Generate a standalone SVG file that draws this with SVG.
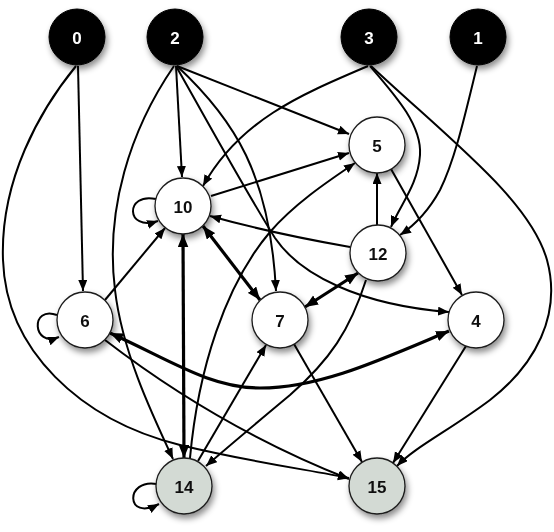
<svg xmlns="http://www.w3.org/2000/svg" width="554" height="532" viewBox="0 0 554 532">
<style>
.e{fill:none;stroke:#000;stroke-width:2;marker-end:url(#a)}
.t{fill:none;stroke:#000;stroke-width:3.2;marker-end:url(#b);marker-start:url(#b)}
.dk circle{fill:#000;stroke:#000;stroke-width:1}
.wt circle{fill:#fff;stroke:#1a1a1a;stroke-width:1.3}
.gr circle{fill:#d3dad4;stroke:#1a1a1a;stroke-width:1.3}
text{font-family:"Liberation Sans",Arial,sans-serif;font-weight:bold;font-size:17px;text-anchor:middle;dominant-baseline:central}
.dk text{fill:#fff}
.wt text,.gr text{fill:#111}
</style>
<defs>
<filter id="sh" x="-40%" y="-40%" width="180%" height="180%">
<feDropShadow dx="2" dy="4" stdDeviation="3" flood-color="#000" flood-opacity="0.45"/>
</filter>
<marker id="a" markerUnits="userSpaceOnUse" markerWidth="12" markerHeight="10" refX="11" refY="4.5" orient="auto-start-reverse"><path d="M0,0 L11,4.5 L0,9 z" fill="#000"/></marker>
<marker id="b" markerUnits="userSpaceOnUse" markerWidth="14" markerHeight="11" refX="13" refY="5.25" orient="auto-start-reverse"><path d="M0,0 L13,5.25 L0,10.5 z" fill="#000"/></marker>
</defs>
<g id="edges">
<path class="e" d="M78,66 L83,291"/>
<path class="e" d="M76,66 C40,110 0,180 3,260 C6,350 80,420 180,445 C250,462 310,470 349,478"/>
<path class="e" d="M176,66 L182,177"/>
<path class="e" d="M177,66 L349,134"/>
<path class="e" d="M177,66 C235,120 270,175 276,291"/>
<path class="e" d="M176,66 C215,135 245,190 275,238 C300,275 360,305 449,312"/>
<path class="e" d="M174,66 C130,130 105,210 115,290 C122,350 150,410 173,459"/>
<path class="e" d="M368,66 C300,95 240,120 203,186"/>
<path class="e" d="M370,66 C395,95 422,125 420,155 C418,185 400,205 391,227"/>
<path class="e" d="M371,66 C450,140 530,200 547,260 C562,315 535,365 490,400 C450,430 415,447 397,466"/>
<path class="e" d="M477,66 C465,115 455,160 440,190 C428,212 415,225 400,235"/>
<path class="e" d="M391,169 L462,295"/>
<path class="e" d="M156,199 C125,192 125,232 158,221"/>
<path class="e" d="M211,196 L349,153"/>
<path class="t" d="M203,226 L260,300"/>
<path class="t" d="M183,234 L184,458"/>
<path class="e" d="M377,225 L377,173"/>
<path class="e" d="M350,247 C310,240 260,230 210,216"/>
<path class="t" d="M358,273 L305,307"/>
<path class="e" d="M366,280 C350,330 330,360 290,395 C260,420 230,445 206,466"/>
<path class="e" d="M57,315 C30,305 32,348 59,337"/>
<path class="e" d="M105,300 L165,228"/>
<path class="t" d="M110,333 C170,360 210,388 260,388 C320,388 380,360 449,331"/>
<path class="e" d="M105,340 C170,390 250,440 349,479"/>
<path class="e" d="M294,344 L362,462"/>
<path class="e" d="M157,484 C125,478 125,522 159,504"/>
<path class="e" d="M198,461 L266,345"/>
<path class="e" d="M190,458 C198,370 225,285 270,232 C295,203 330,180 355,163"/>
<path class="e" d="M466,346 L393,463"/>
</g>
<g id="n0" class="dk" filter="url(#sh)"><circle cx="77" cy="37" r="28"/><text x="77" y="38">0</text></g>
<g id="n2" class="dk" filter="url(#sh)"><circle cx="175" cy="37" r="28"/><text x="175" y="38">2</text></g>
<g id="n3" class="dk" filter="url(#sh)"><circle cx="369" cy="37" r="28"/><text x="369" y="38">3</text></g>
<g id="n1" class="dk" filter="url(#sh)"><circle cx="478" cy="37" r="28"/><text x="478" y="38">1</text></g>
<g id="n5" class="wt" filter="url(#sh)"><circle cx="377" cy="145" r="28"/><text x="377" y="146">5</text></g>
<g id="n10" class="wt" filter="url(#sh)"><circle cx="183" cy="206" r="28"/><text x="183" y="207">10</text></g>
<g id="n12" class="wt" filter="url(#sh)"><circle cx="378" cy="253" r="28"/><text x="378" y="254">12</text></g>
<g id="n6" class="wt" filter="url(#sh)"><circle cx="85" cy="320" r="28"/><text x="85" y="321">6</text></g>
<g id="n7" class="wt" filter="url(#sh)"><circle cx="280" cy="320" r="28"/><text x="280" y="321">7</text></g>
<g id="n4" class="wt" filter="url(#sh)"><circle cx="476" cy="320" r="28"/><text x="476" y="321">4</text></g>
<g id="n14" class="gr" filter="url(#sh)"><circle cx="184" cy="486" r="28"/><text x="184" y="487">14</text></g>
<g id="n15" class="gr" filter="url(#sh)"><circle cx="377" cy="486" r="28"/><text x="377" y="487">15</text></g>
</svg>
